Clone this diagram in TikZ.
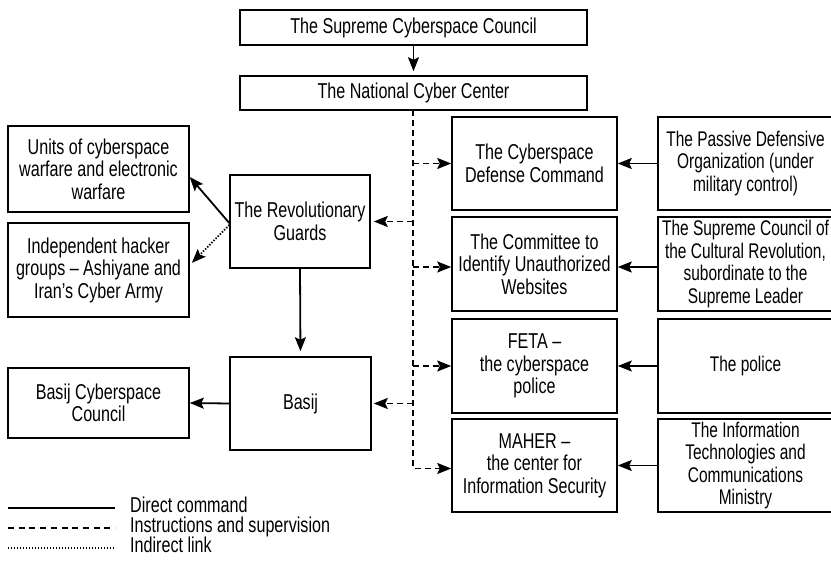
\documentclass[tikz,border=0pt]{standalone}
\usepackage{fontspec}
\setmainfont{Liberation Sans}[FakeStretch=0.75]
\newfontfamily\narrowfont{Liberation Sans}[FakeStretch=0.73]
\usetikzlibrary{arrows.meta}
\tikzset{
  box/.style={draw, line width=1.5pt, inner sep=0pt, align=center,
    font=\fontsize{21.5}{22.5}\selectfont},
  rbox/.style={box, font=\narrowfont\fontsize{21.2}{22.5}\selectfont},
  tip/.style={-{Stealth[length=14pt,width=11pt,inset=2.5pt]}},
  cmd/.style={line width=1.8pt, tip},
  sup/.style={line width=1.8pt, dash pattern=on 6pt off 4pt, tip},
  ind/.style={line width=1.8pt, dash pattern=on 1.3pt off 1.7pt, tip},
  legtext/.style={anchor=west, inner sep=0pt, text height=13pt, text depth=3pt,
    font=\fontsize{21.5}{22.5}\selectfont}
}
\begin{document}
\begin{tikzpicture}[x=1pt,y=-1pt]
\clip (0,0) rectangle (831,562);
\useasboundingbox (0,0) rectangle (831,562);
% top
\node[box, minimum width=347pt, minimum height=35pt] (scc) at (413.5,27.5) {The Supreme Cyberspace Council};
\node[box, minimum width=347pt, minimum height=34pt] (ncc) at (413.5,93) {The National Cyber Center};
% middle column
\node[box, minimum width=165pt, minimum height=93pt] (cdc) at (534.5,163.5) {The Cyberspace\\Defense Command};
\node[box, minimum width=165pt, minimum height=94pt] (cti) at (534.5,264) {The Committee to\\Identify Unauthorized\\Websites};
\node[box, minimum width=165pt, minimum height=94pt] (feta) at (534.5,366) {FETA --\\the cyberspace\\police};
\node[box, minimum width=165pt, minimum height=93pt] (maher) at (534.5,465.5) {MAHER --\\the center for\\Information Security};
% right column
\node[rbox, minimum width=175pt, minimum height=93pt] (pdo) at (745.5,163.5) {The Passive Defensive\\Organization (under\\military control)};
\node[rbox, minimum width=175pt, minimum height=94pt] (sccr) at (745.5,264) {The Supreme Council of\\the Cultural Revolution,\\subordinate to the\\Supreme Leader};
\node[rbox, minimum width=175pt, minimum height=94pt] (pol) at (745.5,366) {The police};
\node[rbox, minimum width=175pt, minimum height=93pt] (ict) at (745.5,465.5) {The Information\\Technologies and\\Communications\\Ministry};
% guards and basij
\node[box, minimum width=140pt, minimum height=93pt] (rg) at (300,221.5) {The Revolutionary\\Guards};
\node[box, minimum width=141pt, minimum height=93pt] (basij) at (300.5,403.5) {Basij};
% left column
\node[box, minimum width=181pt, minimum height=86pt] (units) at (98.5,169) {Units of cyberspace\\warfare and electronic\\warfare};
\node[box, minimum width=181pt, minimum height=94pt] (ihg) at (98.5,270) {Independent hacker\\groups -- Ashiyane and\\Iran’s Cyber Army};
\node[box, minimum width=181pt, minimum height=70pt] (bcc) at (98.5,403) {Basij Cyberspace\\Council};
% trunk
\coordinate (trunk) at (413,110);
\draw[cmd, shorten >=4pt] (scc.south) -- (ncc.north);
\draw[sup] (trunk) |- ([yshift=-3pt]maher.west);
\draw[sup] (cdc.west -| trunk) -- (cdc.west);
\draw[sup] ([yshift=-3pt]cti.west -| trunk) -- ([yshift=-3pt]cti.west);
\draw[sup] (feta.west -| trunk) -- (feta.west);
\draw[sup, shorten >=3pt] (rg.east -| trunk) -- (rg.east);
\draw[sup, shorten >=2pt] (basij.east -| trunk) -- (basij.east);
% right arrows
\draw[cmd] (pdo.west) -- (cdc.east);
\draw[cmd] ([yshift=-3pt]sccr.west) -- ([yshift=-3pt]cti.east);
\draw[cmd] (pol.west) -- (feta.east);
\draw[cmd] (ict.west) -- (maher.east);
% left arrows
\draw[cmd] ([yshift=-1.5pt]rg.west) -- ([yshift=-8pt]units.east);
\draw[ind, shorten >=3pt] ([yshift=-3.5pt]rg.west) -- ([yshift=5pt]ihg.east);
\draw[cmd, shorten >=5pt] (rg.south) -- (basij.north);
\draw[cmd] (basij.west) -- (bcc.east);
% legend
\draw[line width=1.8pt] (8,508) -- (115,508);
\draw[line width=1.8pt, dash pattern=on 6pt off 4.7pt] (8,528) -- (115,528);
\draw[line width=1.5pt, dash pattern=on 1.3pt off 1.7pt] (8,548) -- (115,548);
\node[legtext] (l1) at (130,507) {Direct command};
\node[legtext] (l2) at (130,527) {Instructions and supervision};
\node[legtext] (l3) at (130,547) {Indirect link};
\end{tikzpicture}
\end{document}
